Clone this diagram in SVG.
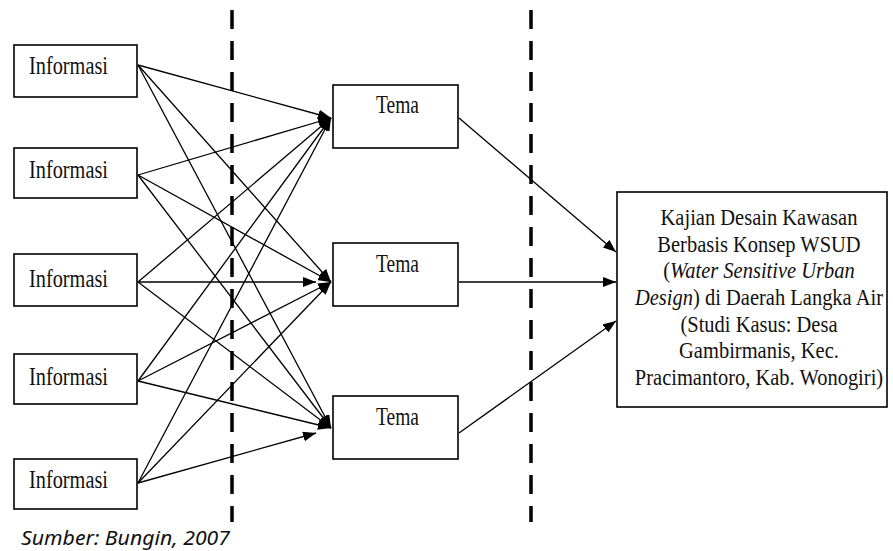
<svg xmlns="http://www.w3.org/2000/svg" width="893" height="551" viewBox="0 0 893 551">
<style>
.box{fill:#fff;stroke:#000;stroke-width:1.6}
.t{font-family:"Liberation Serif","Times New Roman",serif;font-size:25px;fill:#111}
.r{font-family:"Liberation Serif","Times New Roman",serif;font-size:20.5px;fill:#111;text-anchor:middle}
.c{stroke:#000;stroke-width:1.3;fill:none;marker-end:url(#ah)}
.d{stroke:#000;stroke-width:3.5;stroke-dasharray:19 12;fill:none}
.cap{font-family:"Noto Sans","Open Sans",sans-serif;font-style:italic;font-size:20px;fill:#111}
</style>
<defs>
<marker id="ah" markerUnits="userSpaceOnUse" markerWidth="14" markerHeight="10" refX="13" refY="5" orient="auto">
<path d="M0,0 L13,5 L0,10 Z" fill="#000"/>
</marker>
</defs>
<rect width="893" height="551" fill="#fff"/>
<g id="dividers">
<line class="d" x1="232" y1="10" x2="232" y2="522"/>
<line class="d" x1="531" y1="10" x2="531" y2="522"/>
</g>
<g id="connectors">
<line class="c" x1="138" y1="65" x2="331" y2="118"/>
<line class="c" x1="138" y1="65" x2="331" y2="282"/>
<line class="c" x1="138" y1="65" x2="331" y2="428"/>
<line class="c" x1="138" y1="175" x2="331" y2="118"/>
<line class="c" x1="138" y1="175" x2="331" y2="282"/>
<line class="c" x1="138" y1="175" x2="331" y2="428"/>
<line class="c" x1="138" y1="282" x2="331" y2="118"/>
<line class="c" x1="138" y1="282" x2="316" y2="282"/>
<line class="c" x1="138" y1="282" x2="331" y2="428"/>
<line class="c" x1="138" y1="381" x2="331" y2="118"/>
<line class="c" x1="138" y1="381" x2="331" y2="282"/>
<line class="c" x1="138" y1="381" x2="331" y2="428"/>
<line class="c" x1="138" y1="483" x2="331" y2="118"/>
<line class="c" x1="138" y1="483" x2="331" y2="282"/>
<line class="c" x1="138" y1="483" x2="316" y2="433"/>
<line class="c" x1="459" y1="118" x2="616" y2="252"/>
<line class="c" x1="459" y1="282" x2="616" y2="282"/>
<line class="c" x1="459" y1="433" x2="616" y2="321"/>
</g>
<g id="info1"><rect class="box" x="14" y="45" width="123" height="52"/><text class="t" x="29" y="74" textLength="79" lengthAdjust="spacingAndGlyphs">Informasi</text></g>
<g id="info2"><rect class="box" x="14" y="148" width="123" height="50"/><text class="t" x="29" y="178" textLength="79" lengthAdjust="spacingAndGlyphs">Informasi</text></g>
<g id="info3"><rect class="box" x="14" y="254" width="123" height="52"/><text class="t" x="29" y="287" textLength="79" lengthAdjust="spacingAndGlyphs">Informasi</text></g>
<g id="info4"><rect class="box" x="14" y="354" width="123" height="50"/><text class="t" x="29" y="385" textLength="79" lengthAdjust="spacingAndGlyphs">Informasi</text></g>
<g id="info5"><rect class="box" x="14" y="459" width="123" height="50"/><text class="t" x="29" y="488" textLength="79" lengthAdjust="spacingAndGlyphs">Informasi</text></g>
<g id="tema1"><rect class="box" x="333" y="85" width="125" height="63"/><text class="t" x="376" y="113" textLength="43" lengthAdjust="spacingAndGlyphs">Tema</text></g>
<g id="tema2"><rect class="box" x="333" y="243" width="125" height="63"/><text class="t" x="376" y="272" textLength="43" lengthAdjust="spacingAndGlyphs">Tema</text></g>
<g id="tema3"><rect class="box" x="333" y="396" width="125" height="63"/><text class="t" x="376" y="425" textLength="43" lengthAdjust="spacingAndGlyphs">Tema</text></g>
<g id="result">
<rect class="box" x="617" y="192" width="270" height="215"/>
<g transform="scale(1,1.15)">
<text class="r" x="759" y="195.65">Kajian Desain Kawasan</text>
<text class="r" x="759" y="219.13">Berbasis Konsep WSUD</text>
<text class="r" x="759" y="241.74">(<tspan font-style="italic">Water Sensitive Urban</tspan></text>
<text class="r" x="759" y="265.22"><tspan font-style="italic">Design</tspan>) di Daerah Langka Air</text>
<text class="r" x="759" y="288.70">(Studi Kasus: Desa</text>
<text class="r" x="759" y="311.30">Gambirmanis, Kec.</text>
<text class="r" x="759" y="334.78">Pracimantoro, Kab. Wonogiri)</text>
</g>
</g>
<text class="cap" x="21" y="545" textLength="209" lengthAdjust="spacingAndGlyphs">Sumber: Bungin, 2007</text>
</svg>
